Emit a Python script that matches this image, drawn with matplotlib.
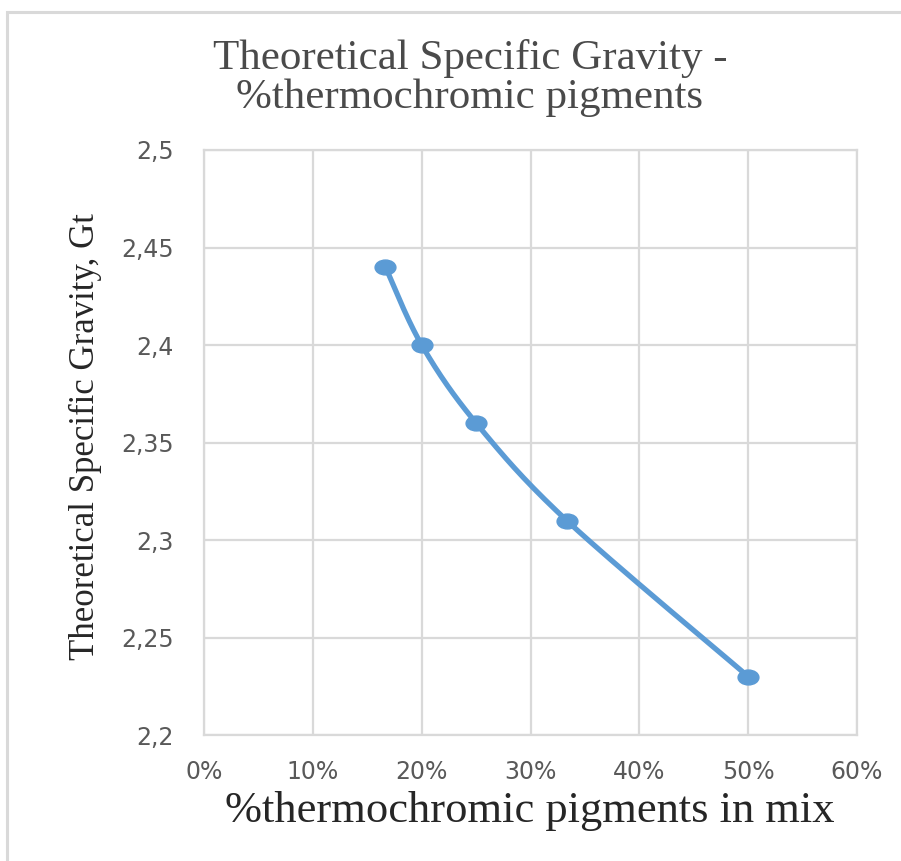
import numpy as np
import matplotlib
matplotlib.use("Agg")
import matplotlib.pyplot as plt
from matplotlib.path import Path
from matplotlib.patches import Rectangle
from matplotlib.ticker import FuncFormatter

# data
pigment_pct = [16.67, 20.0, 25.0, 33.33, 50.0]
gravity = [2.44, 2.40, 2.36, 2.31, 2.23]
x_ticks = [0, 10, 20, 30, 40, 50, 60]
y_ticks = [2.2, 2.25, 2.3, 2.35, 2.4, 2.45, 2.5]

title = "Theoretical Specific Gravity -\n%thermochromic pigments"
x_title = "%thermochromic pigments in mix"
y_title = "Theoretical Specific Gravity, Gt"

blue = "#5B9BD5"
grid_c = "#D9D9D9"
tick_c = "#595959"
serif = ["Liberation Serif", "DejaVu Serif"]
sans = ["DejaVu Sans"]


def smooth(px, py, steps=40):
    # excel-like smoothed line (catmull-rom through the points)
    pts = np.column_stack([px, py])
    pts = np.vstack([pts[0], pts, pts[-1]])
    out = []
    for i in range(1, len(pts) - 2):
        p0, p1, p2, p3 = pts[i - 1], pts[i], pts[i + 1], pts[i + 2]
        c1 = p1 + (p2 - p0) / 6
        c2 = p2 - (p3 - p1) / 6
        t = np.linspace(0, 1, steps)[:, None]
        seg = ((1 - t) ** 3) * p1 + 3 * ((1 - t) ** 2) * t * c1 + 3 * (1 - t) * t ** 2 * c2 + t ** 3 * p2
        out.append(seg)
    out = np.vstack(out)
    return out[:, 0], out[:, 1]


fig = plt.figure(figsize=(9.01, 8.61), dpi=100)
ax = fig.add_axes([204 / 901, 1 - 735 / 861, 653 / 901, 585 / 861])

ax.set_xlim(0, 60)
ax.set_ylim(2.2, 2.5)
ax.set_xticks(x_ticks)
ax.set_yticks(y_ticks)
ax.xaxis.set_major_formatter(FuncFormatter(lambda v, p: f"{v:.0f}%"))
ax.yaxis.set_major_formatter(FuncFormatter(lambda v, p: f"{v:g}".replace(".", ",")))
ax.tick_params(length=0, labelsize=17, colors=tick_c)
ax.tick_params(axis="x", pad=18)
ax.tick_params(axis="y", pad=22)
for lab in ax.get_xticklabels() + ax.get_yticklabels():
    lab.set_family(sans)
ax.grid(True, color=grid_c, lw=1.6)
ax.set_axisbelow(True)
for s in ax.spines.values():
    s.set_color(grid_c)
    s.set_linewidth(1.6)

# smoothing done in screen space, like excel
fig.canvas.draw()
disp = ax.transData.transform(np.column_stack([pigment_pct, gravity]))
sx, sy = smooth(disp[:, 0], disp[:, 1])
curve = ax.transData.inverted().transform(np.column_stack([sx, sy]))
ax.plot(curve[:, 0], curve[:, 1], color=blue, lw=3.8, solid_capstyle="round", zorder=3)

circ = Path.unit_circle()
ellipse = Path(circ.vertices * np.array([1.4, 1.0]), circ.codes)
ax.plot(pigment_pct, gravity, ls="none", marker=ellipse, ms=15, color=blue, zorder=4)

fig.text(470 / 901, 1 - 78 / 861, title, ha="center", va="center", fontsize=31,
         family=serif, color="#4a4a4a", linespacing=1.05)
fig.text(530 / 901, 1 - 811 / 861, x_title, ha="center", va="center", fontsize=32,
         family=serif, color="#262626")
fig.text(85 / 901, 1 - 436 / 861, y_title, ha="center", va="center", fontsize=25,
         family=serif, color="#262626", rotation=90)

# outer chart frame
fig.patches.append(Rectangle((7 / 901, -0.05), 1.2, 1 - 12 / 861 + 0.05, transform=fig.transFigure,
                             fill=False, ec="#D9D9D9", lw=2.2))

fig.savefig("out.png", dpi=100)
